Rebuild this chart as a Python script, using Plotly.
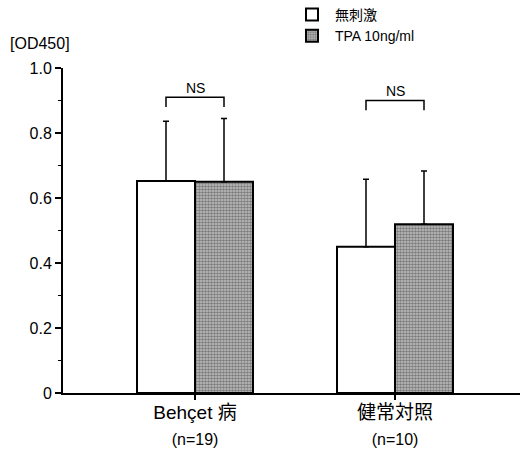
import plotly.graph_objects as go

categories = ["Behçet 病", "健常対照"]
n_labels = ["(n=19)", "(n=10)"]
series_names = ["無刺激", "TPA 10ng/ml"]
unstim_mean = [0.652, 0.450]
unstim_sd = [0.184, 0.208]
tpa_mean = [0.650, 0.519]
tpa_sd = [0.195, 0.164]
ns_height = [0.91, 0.90]
ns_text = ["NS", "NS"]
y_tickvals = [0, 0.2, 0.4, 0.6, 0.8, 1.0]
y_ticktext = ["0", "0.2", "0.4", "0.6", "0.8", "1.0"]

FONT = "Liberation Sans, Arial, Noto Sans CJK JP, sans-serif"

fig = go.Figure()
fig.add_trace(go.Bar(
    x=categories, y=unstim_mean, name=series_names[0],
    marker=dict(color="white", line=dict(color="black", width=2)),
    error_y=dict(type="data", array=unstim_sd, arrayminus=[0] * len(unstim_sd),
                 symmetric=False, color="black", thickness=1.5, width=3),
))
fig.add_trace(go.Bar(
    x=categories, y=tpa_mean, name=series_names[1],
    marker=dict(color="#a0a0a0", line=dict(color="black", width=2),
                pattern=dict(shape=".", fgcolor="#333333", bgcolor="#c4c4c4",
                             size=3, solidity=0.6)),
    error_y=dict(type="data", array=tpa_sd, arrayminus=[0] * len(tpa_sd),
                 symmetric=False, color="black", thickness=1.5, width=3),
))

half = 0.145  # half the distance between paired bar centres (bar width)
for i, (h, t) in enumerate(zip(ns_height, ns_text)):
    fig.add_trace(go.Scatter(
        x=[i - half, i - half, i + half, i + half],
        y=[h - 0.03, h, h, h - 0.03],
        mode="lines", line=dict(color="black", width=1.5),
        showlegend=False, hoverinfo="skip", xaxis="x2",
    ))
    fig.add_annotation(x=i, y=h + 0.03, xref="x2", yref="y", text=t,
                       showarrow=False, font=dict(size=14, color="black", family=FONT))

ticktext = [f"<span style='font-size:19px'>{c}</span><br><span style='font-size:16px'>{n}</span>"
            for c, n in zip(categories, n_labels)]

xr = [-0.66, 1.625]
fig.update_layout(
    width=523, height=452,
    margin=dict(l=63, r=3, t=68, b=59, autoexpand=False),
    plot_bgcolor="white", paper_bgcolor="white",
    barmode="group", bargap=0.42, bargroupgap=0,
    font=dict(family=FONT, color="black", size=16),
    xaxis=dict(range=xr, tickmode="array", tickvals=categories, ticktext=ticktext,
               showline=True, linecolor="black", linewidth=2, ticks="outside",
               ticklen=5, tickwidth=1.5, tickcolor="black", showgrid=False,
               zeroline=False, fixedrange=True, tickfont=dict(size=20),
               automargin=False, ticklabelstandoff=-5),
    xaxis2=dict(range=xr, overlaying="x", visible=False),
    yaxis=dict(range=[0, 1.0], tickvals=y_tickvals, ticktext=y_ticktext,
               showline=True, linecolor="black", linewidth=2, ticks="outside",
               ticklen=6, tickwidth=1.5, tickcolor="black", showgrid=False,
               zeroline=False, tickfont=dict(size=16), automargin=False,
               minor=dict(dtick=0.1, ticks="outside", ticklen=3, tickcolor="black", tickwidth=1)),
    legend=dict(x=(289 - 63) / 457, y=1 + (68 + 1) / 325, xanchor="left", yanchor="top",
                font=dict(size=14), bgcolor="rgba(0,0,0,0)", tracegroupgap=0,
                itemsizing="constant", itemwidth=36),
    showlegend=True,
)
fig.add_annotation(text="[OD450]", xref="paper", yref="paper", x=-55 / 457, y=1 + (68 - 43) / 325,
                   xanchor="left", yanchor="middle", showarrow=False, font=dict(size=16))

fig.write_html("out.html")
